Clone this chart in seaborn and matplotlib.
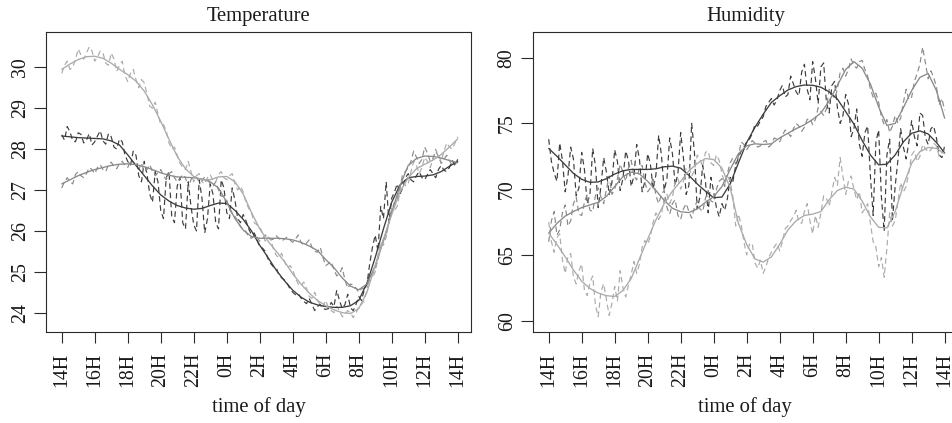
import numpy as np
import matplotlib
matplotlib.use("Agg")
import matplotlib.pyplot as plt
import seaborn as sns

# ---------------- data ----------------
hour_labels = ['14H', '16H', '18H', '20H', '22H', '0H', '2H', '4H', '6H', '8H', '10H', '12H', '14H']
tick_hours = [0, 2, 4, 6, 8, 10, 12, 14, 16, 18, 20, 22, 24]

# hours since 14H: smooth curves every 30 min, raw (dashed) readings every 10 min
smooth_hours = np.arange(49) * 0.5
raw_hours = np.arange(145) / 6.0

temp_dark_smooth = [28.32, 28.30, 28.28, 28.27, 28.26, 28.25, 28.20, 28.10, 27.86, 27.60,
                    27.35, 27.10, 26.88, 26.73, 26.62, 26.56, 26.53, 26.55, 26.62, 26.68,
                    26.67, 26.50, 26.28, 26.00, 25.65, 25.35, 25.04, 24.78, 24.55, 24.38,
                    24.26, 24.19, 24.15, 24.13, 24.13, 24.17, 24.30, 24.72, 25.35, 26.05,
                    26.70, 27.12, 27.30, 27.33, 27.34, 27.37, 27.45, 27.58, 27.70]
temp_mid_smooth = [27.15, 27.25, 27.35, 27.43, 27.50, 27.55, 27.60, 27.63, 27.64, 27.62,
                   27.57, 27.50, 27.42, 27.36, 27.32, 27.31, 27.30, 27.27, 27.20, 27.05,
                   26.70, 26.30, 26.02, 25.86, 25.82, 25.82, 25.82, 25.81, 25.78, 25.72,
                   25.63, 25.52, 25.30, 25.10, 24.85, 24.65, 24.56, 24.70, 25.15, 25.75,
                   26.45, 27.10, 27.60, 27.77, 27.83, 27.82, 27.78, 27.72, 27.67]
temp_light_smooth = [29.95, 30.08, 30.19, 30.26, 30.27, 30.22, 30.10, 29.95, 29.82, 29.66,
                     29.42, 29.08, 28.68, 28.24, 27.82, 27.52, 27.33, 27.25, 27.25, 27.32,
                     27.33, 27.20, 26.90, 26.45, 26.05, 25.75, 25.50, 25.25, 24.95, 24.70,
                     24.48, 24.30, 24.17, 24.07, 24.00, 23.98, 24.10, 24.50, 25.15, 25.80,
                     26.40, 26.95, 27.30, 27.52, 27.63, 27.73, 27.87, 28.05, 28.25]

temp_dark_raw = [28.35, 28.22, 28.55, 28.42, 28.20, 28.18, 28.40, 28.36, 28.15, 28.22,
                 28.38, 28.10, 28.18, 28.32, 28.45, 28.20, 28.12, 28.38, 28.30, 28.05,
                 28.00, 28.25, 28.18, 27.85, 27.70, 27.60, 27.95, 27.85, 27.35, 27.20,
                 27.70, 27.40, 26.90, 26.70, 27.45, 27.20, 26.50, 26.30, 27.30, 27.45,
                 26.35, 26.20, 27.10, 27.30, 26.20, 26.05, 27.20, 26.60, 26.15, 26.00,
                 27.25, 26.80, 25.95, 26.30, 27.15, 26.90, 26.20, 26.05, 27.25, 27.05,
                 26.45, 26.30, 27.05, 26.75, 26.30, 26.20, 26.40, 26.25, 26.05, 25.90,
                 25.95, 25.80, 25.60, 25.58, 25.50, 25.32, 25.20, 25.12, 25.10, 24.92,
                 24.85, 24.80, 24.72, 24.58, 24.50, 24.44, 24.47, 24.36, 24.28, 24.22,
                 24.35, 24.20, 24.05, 24.15, 24.20, 24.10, 24.08, 24.10, 24.25, 24.15,
                 24.55, 24.30, 24.10, 24.20, 24.45, 24.12, 24.05, 24.20, 24.40, 24.30,
                 24.55, 24.70, 25.20, 25.60, 25.90, 25.50, 26.60, 26.30, 27.20, 26.20,
                 26.80, 26.95, 27.15, 26.90, 27.05, 27.30, 27.40, 27.25, 27.20, 27.35,
                 27.45, 27.30, 27.25, 27.38, 27.50, 27.40, 27.30, 27.50, 27.60, 27.48,
                 27.45, 27.55, 27.72, 27.60, 27.75]
temp_mid_raw = [27.05, 27.20, 27.30, 27.20, 27.15, 27.38, 27.45, 27.35, 27.30, 27.40,
                27.55, 27.50, 27.40, 27.55, 27.62, 27.50, 27.45, 27.62, 27.68, 27.58,
                27.52, 27.65, 27.70, 27.60, 27.55, 27.72, 27.68, 27.60, 27.50, 27.65,
                27.45, 27.50, 27.62, 27.45, 27.35, 27.42, 27.50, 27.35, 27.25, 27.40,
                27.45, 27.30, 27.20, 27.28, 27.38, 27.30, 27.05, 27.25, 27.35, 27.30,
                27.20, 27.22, 27.32, 27.28, 27.15, 27.10, 27.20, 27.00, 26.85, 26.85,
                26.75, 26.55, 26.40, 26.35, 26.25, 26.10, 26.05, 25.98, 25.85, 25.82,
                25.90, 25.85, 25.75, 25.80, 25.90, 25.85, 25.78, 25.80, 25.88, 25.82,
                25.75, 25.80, 25.85, 25.78, 25.72, 25.80, 25.90, 25.72, 25.65, 25.70,
                25.78, 25.60, 25.50, 25.48, 25.60, 25.35, 25.15, 25.20, 25.25, 25.05,
                24.90, 24.95, 25.10, 24.80, 24.60, 24.70, 24.68, 24.60, 24.50, 24.58,
                24.60, 24.68, 24.80, 24.95, 25.05, 25.30, 25.60, 25.80, 25.90, 26.20,
                26.50, 26.70, 26.80, 27.05, 27.40, 27.45, 27.55, 27.70, 27.95, 27.80,
                27.65, 27.75, 28.05, 27.90, 27.70, 27.78, 27.95, 27.82, 27.65, 27.75,
                27.85, 27.72, 27.60, 27.62, 27.70]
temp_light_raw = [29.85, 30.05, 30.15, 29.95, 30.00, 30.20, 30.45, 30.30, 30.20, 30.35,
                  30.50, 30.40, 30.15, 30.25, 30.40, 30.35, 30.10, 30.05, 30.35, 30.20,
                  29.90, 30.05, 30.15, 29.80, 29.65, 29.85, 29.95, 29.70, 29.50, 29.70,
                  29.62, 29.35, 29.05, 29.00, 29.15, 28.85, 28.60, 28.60, 28.45, 28.15,
                  28.00, 28.05, 27.85, 27.65, 27.55, 27.50, 27.70, 27.45, 27.20, 27.35,
                  27.40, 27.20, 27.15, 27.30, 27.38, 27.22, 27.20, 27.38, 27.45, 27.30,
                  27.25, 27.35, 27.40, 27.15, 27.00, 27.10, 26.95, 26.70, 26.55, 26.45,
                  26.20, 26.15, 26.10, 25.95, 25.75, 25.85, 25.80, 25.55, 25.40, 25.35,
                  25.45, 25.25, 25.10, 25.15, 25.05, 24.85, 24.70, 24.65, 24.75, 24.60,
                  24.40, 24.35, 24.50, 24.30, 24.20, 24.15, 24.30, 24.12, 24.05, 24.00,
                  24.15, 24.05, 23.90, 23.95, 24.05, 24.00, 23.88, 23.98, 24.15, 24.20,
                  24.30, 24.55, 24.90, 24.85, 25.00, 25.40, 25.75, 25.65, 25.85, 26.25,
                  26.55, 26.50, 26.60, 26.95, 27.30, 27.10, 27.15, 27.45, 27.70, 27.60,
                  27.40, 27.55, 27.80, 27.70, 27.55, 27.75, 28.00, 27.85, 27.70, 27.95,
                  28.15, 28.05, 28.00, 28.15, 28.30]

hum_dark_smooth = [73.10, 72.50, 71.85, 71.20, 70.75, 70.52, 70.55, 70.80, 71.15, 71.40,
                   71.50, 71.50, 71.50, 71.55, 71.70, 71.75, 71.60, 71.05, 70.40, 69.85,
                   69.35, 69.40, 70.40, 72.00, 73.55, 74.70, 75.70, 76.60, 77.10, 77.54,
                   77.80, 77.92, 77.90, 77.75, 77.40, 76.85, 75.90, 74.95, 73.70, 72.60,
                   71.85, 71.90, 72.60, 73.60, 74.25, 74.43, 74.20, 73.55, 72.75]
hum_mid_smooth = [66.65, 67.40, 67.95, 68.30, 68.60, 68.80, 69.00, 69.45, 70.20, 70.95,
                  71.30, 71.16, 70.60, 69.90, 69.15, 68.55, 68.28, 68.22, 68.50, 69.00,
                  69.43, 70.20, 71.50, 72.70, 73.30, 73.45, 73.40, 73.45, 73.90, 74.25,
                  74.60, 74.90, 75.30, 75.80, 76.70, 77.90, 79.10, 79.70, 79.20, 78.00,
                  76.25, 74.85, 75.00, 76.20, 77.50, 78.50, 78.80, 77.50, 75.40]
hum_light_smooth = [66.65, 65.80, 64.85, 63.86, 63.00, 62.45, 62.10, 61.90, 61.84, 62.30,
                    63.20, 64.70, 66.20, 67.66, 68.90, 69.85, 70.60, 71.40, 71.95, 72.33,
                    72.25, 71.60, 70.10, 67.40, 65.80, 64.70, 64.45, 64.85, 65.80, 66.90,
                    67.60, 68.00, 68.10, 68.30, 69.20, 69.90, 70.15, 70.00, 69.10, 67.90,
                    67.10, 67.05, 68.30, 70.30, 71.97, 72.85, 73.17, 73.10, 72.70]

hum_dark_raw = [73.8, 72.1, 71.2, 70.6, 73.5, 72.2, 69.8, 71.0, 73.2, 72.3,
                69.5, 70.1, 72.8, 71.5, 68.9, 69.6, 73.1, 71.8, 68.6, 70.2,
                72.4, 71.3, 69.6, 70.5, 73.0, 72.1, 69.9, 70.8, 72.9, 72.2,
                70.2, 71.0, 73.4, 72.3, 69.8, 70.6, 72.7, 71.9, 70.0, 71.1,
                74.1, 72.6, 69.9, 70.8, 73.9, 72.7, 70.3, 71.2, 74.3, 72.4,
                69.6, 70.3, 75.0, 72.8, 68.5, 69.4, 71.8, 70.6, 68.2, 70.9,
                69.8, 68.6, 67.9, 68.9, 68.4, 69.3, 70.9, 70.6, 71.8, 72.4,
                72.9, 73.2, 73.6, 73.8, 74.2, 74.9, 74.8, 75.2, 75.5, 76.3,
                76.6, 76.9, 76.4, 76.8, 77.5, 77.9, 77.0, 77.2, 78.6, 78.0,
                77.4, 77.1, 78.9, 79.5, 77.6, 76.8, 79.7, 78.4, 76.5, 79.3,
                79.6, 76.6, 75.8, 77.9, 78.2, 76.2, 75.0, 75.6, 77.2, 76.5,
                74.0, 74.6, 76.1, 73.4, 72.5, 74.3, 74.8, 71.0, 68.0, 73.6,
                74.5, 69.4, 66.8, 72.6, 73.8, 67.6, 70.2, 72.2, 74.6, 73.2,
                72.3, 73.6, 75.2, 74.0, 73.3, 75.8, 75.6, 73.9, 73.4, 74.6,
                74.8, 73.9, 72.6, 72.4, 73.3]
hum_mid_raw = [66.0, 67.6, 68.3, 66.5, 66.9, 68.2, 68.8, 67.2, 67.6, 68.9,
               69.4, 68.1, 68.0, 69.0, 69.6, 68.4, 68.3, 69.5, 70.1, 69.4,
               68.9, 70.0, 71.0, 69.6, 70.0, 70.8, 71.9, 71.3, 70.6, 71.6,
               72.2, 71.0, 70.7, 71.7, 71.8, 70.5, 69.8, 70.1, 70.9, 69.5,
               68.9, 69.6, 69.9, 68.6, 68.1, 68.9, 69.2, 68.0, 67.7, 68.5,
               68.9, 68.3, 67.8, 68.6, 69.1, 68.5, 68.3, 69.3, 69.9, 69.1,
               69.0, 70.0, 70.6, 70.8, 70.2, 71.2, 72.0, 72.4, 71.9, 72.5,
               73.6, 73.4, 73.0, 73.3, 73.7, 73.5, 73.2, 73.3, 73.6, 73.7,
               73.2, 73.4, 73.9, 73.8, 73.6, 74.1, 74.5, 74.3, 74.0, 74.6,
               75.0, 74.8, 74.4, 74.7, 75.3, 75.4, 74.9, 75.3, 76.2, 75.9,
               75.6, 76.1, 77.6, 77.2, 76.9, 77.6, 78.9, 79.2, 78.6, 79.1,
               79.9, 79.4, 79.2, 79.7, 79.8, 79.1, 78.6, 77.6, 77.0, 77.3,
               76.6, 75.5, 74.9, 75.3, 74.3, 74.8, 75.6, 75.0, 75.4, 76.6,
               77.6, 76.8, 77.0, 78.2, 78.8, 79.5, 80.8, 79.6, 78.4, 79.0,
               78.5, 77.8, 76.4, 76.9, 76.0]
hum_light_raw = [67.5, 66.0, 65.2, 66.3, 66.6, 64.6, 63.6, 64.9, 65.1, 63.3,
                 62.8, 63.8, 64.3, 62.3, 61.9, 62.9, 63.4, 61.2, 60.3, 62.2,
                 62.8, 61.6, 60.4, 61.3, 62.6, 61.5, 63.8, 62.5, 61.8, 62.7,
                 63.5, 64.5, 63.6, 64.3, 65.6, 66.1, 65.8, 66.4, 67.5, 68.2,
                 67.7, 68.1, 69.3, 69.6, 68.9, 69.4, 70.6, 70.8, 70.0, 70.6,
                 71.6, 71.7, 71.0, 71.4, 72.6, 72.3, 71.7, 72.8, 72.9, 72.0,
                 71.8, 72.6, 72.2, 71.2, 70.4, 71.0, 70.6, 69.4, 67.2, 68.1,
                 67.3, 66.0, 65.0, 65.8, 65.9, 64.4, 64.0, 64.6, 63.6, 64.1,
                 64.8, 65.2, 65.6, 65.9, 65.3, 66.0, 67.0, 67.2, 67.6, 67.9,
                 68.4, 67.5, 67.4, 68.3, 68.9, 67.6, 66.6, 68.0, 67.1, 68.2,
                 69.5, 69.3, 68.7, 69.8, 70.9, 70.3, 72.4, 71.0, 69.6, 70.6,
                 71.0, 70.0, 69.2, 69.8, 68.2, 68.5, 68.9, 67.4, 66.0, 65.6,
                 64.1, 64.8, 63.3, 65.5, 68.2, 67.2, 67.6, 69.0, 70.5, 69.8,
                 70.2, 71.3, 72.6, 72.9, 72.1, 72.5, 73.4, 73.1, 72.8, 73.0,
                 73.5, 73.3, 72.5, 72.8, 73.0]

temp_yticks = [24, 25, 26, 27, 28, 29, 30]
hum_yticks = [60, 65, 70, 75, 80]

# ---------------- style ----------------
sns.set_style("ticks")
plt.rcParams['font.family'] = ['Liberation Serif', 'DejaVu Serif']
plt.rcParams['lines.scale_dashes'] = False

col_dark, col_mid, col_light = '#3d3d3d', '#8a8a8a', '#ababab'
edge = '#2a2a2a'
FS = 14.3
FS_T = 14.9

W, H = 952, 423
fig = plt.figure(figsize=(W / 100, H / 100), dpi=100)
ax_bottom = (H - 331.7) / H
ax_height = (331.7 - 32.3) / H
ax_w = 425.0 / W
ax1 = fig.add_axes([45.9 / W, ax_bottom, ax_w, ax_height])
ax2 = fig.add_axes([532.85 / W, ax_bottom, ax_w, ax_height])


def draw(ax, raws, smooths, cols):
    for raw, c in zip(raws, cols):
        sns.lineplot(x=raw_hours, y=raw, ax=ax, color=c, linewidth=0.85,
                     estimator=None, sort=False)
        ax.lines[-1].set_dashes((4, 2.6))
    for sm, c in zip(smooths, cols):
        sns.lineplot(x=smooth_hours, y=sm, ax=ax, color=c, linewidth=0.95,
                     estimator=None, sort=False)


draw(ax1, [temp_dark_raw, temp_mid_raw, temp_light_raw],
     [temp_dark_smooth, temp_mid_smooth, temp_light_smooth],
     [col_dark, col_mid, col_light])
draw(ax2, [hum_dark_raw, hum_mid_raw, hum_light_raw],
     [hum_dark_smooth, hum_mid_smooth, hum_light_smooth],
     [col_dark, col_mid, col_light])

ax1.set_ylim(23.535, 30.856)
ax2.set_ylim(59.16, 81.93)

for ax, title, yt in [(ax1, 'Temperature', temp_yticks), (ax2, 'Humidity', hum_yticks)]:
    ax.set_xlim(-0.96, 24.8)
    ax.set_xticks(tick_hours)
    ax.set_xticklabels(hour_labels)
    ax.set_yticks(yt)
    ax.set_yticklabels([str(v) for v in yt])
    ax.set_title(title, fontsize=FS_T, pad=8.4, color='#1a1a1a')
    ax.set_xlabel('time of day', fontsize=FS_T, color='#1a1a1a')
    ax.xaxis.label.set_va('baseline')
    ax.xaxis.set_label_coords(0.5, (H - 412 - H * ax_bottom) / (H * ax_height))
    ax.set_ylabel('')
    for s in ax.spines.values():
        s.set_visible(True)
        s.set_color(edge)
        s.set_linewidth(0.8)
    ax.tick_params(axis='x', direction='out', length=7.9, width=0.8, pad=7.2,
                   labelsize=FS, labelrotation=90, color=edge, labelcolor='#1a1a1a')
    ax.tick_params(axis='y', direction='out', length=8.6, width=0.8, pad=3.0,
                   labelsize=FS, labelrotation=90, color=edge, labelcolor='#1a1a1a')
    for lbl in ax.get_yticklabels():
        lbl.set_va('center')
    ax.grid(False)

fig.savefig('out.png', dpi=100)
